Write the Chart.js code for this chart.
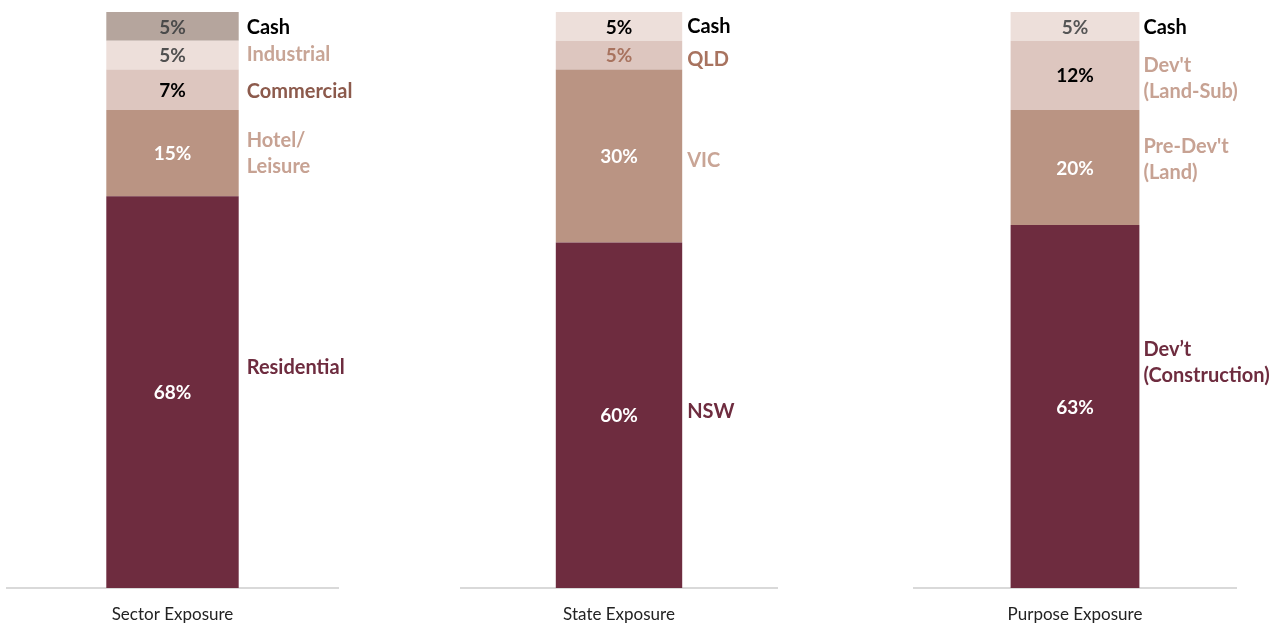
<!DOCTYPE html>
<html>
<head>
<meta charset="utf-8">
<script src="https://cdn.jsdelivr.net/npm/chart.js@4.4.1/dist/chart.umd.min.js"></script>
<style>
  body { margin: 0; background: #fff; }
  #wrap { position: relative; width: 1272px; height: 623px; }
  canvas { position: absolute; top: 0; }
</style>
</head>
<body>
<div id="wrap">
  <canvas id="sector" width="424" height="623" style="left:0px"></canvas>
  <canvas id="state" width="424" height="623" style="left:424px"></canvas>
  <canvas id="purpose" width="424" height="623" style="left:848px"></canvas>
</div>
<script>
// Segments are listed bottom to top
const sectorLabels = ['Residential', 'Hotel/\nLeisure', 'Commercial', 'Industrial', 'Cash'];
const sectorValues = [68, 15, 7, 5, 5];

const stateLabels = ['NSW', 'VIC', 'QLD', 'Cash'];
const stateValues = [60, 30, 5, 5];

const purposeLabels = ['Dev’t\n(Construction)', 'Pre-Dev\'t\n(Land)', 'Dev\'t\n(Land-Sub)', 'Cash'];
const purposeValues = [63, 20, 12, 5];

const maroon = '#6E2C3F';
const tan = '#BA9483';
const light = '#DDC6BF';
const lighter = '#EDDFDA';
const cashGrey = '#B5A59D';

const font = 'Lato, "Open Sans", sans-serif';

// Draws the % inside each segment and the name beside it
const segmentLabels = {
    id: 'segmentLabels',
    afterDatasetsDraw(chart, args, opts) {
        const ctx = chart.ctx;
        ctx.save();
        chart.data.datasets.forEach((ds, i) => {
            const bar = chart.getDatasetMeta(i).data[0];
            const midY = (bar.y + bar.base) / 2;

            ctx.font = 'bold 19px ' + font;
            ctx.textAlign = 'center';
            ctx.textBaseline = 'middle';
            ctx.fillStyle = opts.valueColors[i];
            ctx.fillText(ds.data[0] + '%', bar.x, midY + 1);

            const lines = ds.label.split('\n');
            const lineH = 26;
            let y = midY + (opts.nudge[i] || 0) - (lines.length - 1) * lineH / 2;
            ctx.font = 'bold 20px ' + font;
            ctx.textAlign = 'left';
            ctx.fillStyle = opts.nameColors[i];
            lines.forEach(line => {
                ctx.fillText(line, bar.x + bar.width / 2 + opts.gap, y);
                y += lineH;
            });
        });
        ctx.restore();
    }
};

function makeChart(id, title, labels, values, colors, valueColors, nameColors, nudge, gap, padL, padR) {
    return new Chart(document.getElementById(id), {
        type: 'bar',
        data: {
            labels: [title],
            datasets: labels.map((l, i) => ({
                label: l,
                data: [values[i]],
                backgroundColor: colors[i],
                barPercentage: 0.4,
                categoryPercentage: 1
            }))
        },
        options: {
            responsive: false,
            animation: false,
            layout: { padding: { top: 12, bottom: 0, left: padL, right: padR } },
            scales: {
                x: {
                    stacked: true,
                    grid: { display: false, drawTicks: false },
                    border: { color: '#D9D9D9', width: 2 },
                    ticks: { padding: 16, color: '#222', font: { family: font, size: 17 } },
                    afterFit(scale) { scale.height = 35; }
                },
                y: { stacked: true, display: false, min: 0, max: 100 }
            },
            plugins: {
                legend: { display: false },
                tooltip: { enabled: false },
                segmentLabels: { valueColors, nameColors, nudge, gap }
            }
        },
        plugins: [segmentLabels]
    });
}

makeChart('sector', 'Sector Exposure', sectorLabels, sectorValues,
    [maroon, tan, light, lighter, cashGrey],
    ['#fff', '#fff', '#000', '#505050', '#4a4a4a'],
    [maroon, '#C7A293', '#8C5A4C', '#C8A596', '#000'],
    [-25, 0, 2, -1, 1.5], 8, 7, 86);

makeChart('state', 'State Exposure', stateLabels, stateValues,
    [maroon, tan, light, lighter],
    ['#fff', '#fff', '#A8735F', '#000'],
    [maroon, '#C9A596', '#A8735F', '#000'],
    [-4, 5, 4, 0.5], 5, 37, 71);

makeChart('purpose', 'Purpose Exposure', purposeLabels, purposeValues,
    [maroon, tan, light, lighter],
    ['#fff', '#fff', '#000', '#555'],
    [maroon, '#C7A293', '#C7A293', '#000'],
    [-44, -8, 3, 1.5], 4, 66, 36);
</script>
</body>
</html>
